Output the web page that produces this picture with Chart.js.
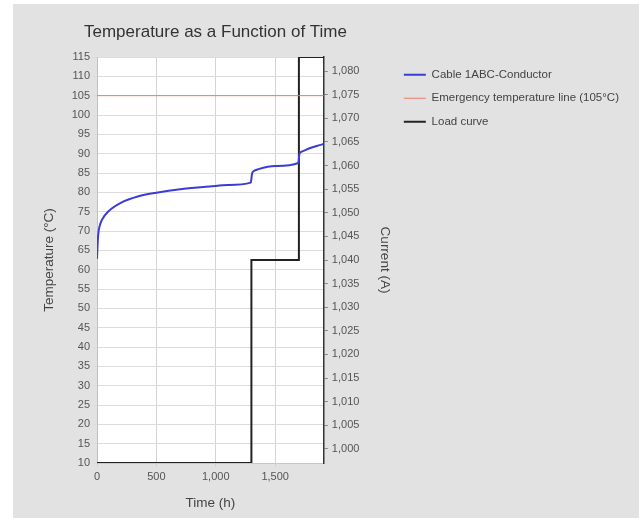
<!DOCTYPE html>
<html>
<head>
<meta charset="utf-8">
<script src="https://cdn.jsdelivr.net/npm/chart.js@4"></script>
<style>
  html, body { margin: 0; padding: 0; background: #fff; }
  #panel { position: absolute; left: 13px; top: 4px; width: 626px; height: 514px; background: #e2e2e2; }
  canvas { display: block; }
</style>
</head>
<body>
<div id="panel"><canvas id="chart" width="626" height="514"></canvas></div>
<script>
/* ── data ── */
const tempTime  = [0, 5, 10, 20, 40, 100, 200, 350, 500, 700, 950, 1100, 1295, 1300, 1305, 1320, 1360, 1500, 1695, 1700, 1705, 1730, 1790, 1850, 1910];
const tempValue = [62.8, 66.5, 69, 71, 72.8, 75.2, 77.3, 79, 79.9, 80.8, 81.5, 81.9, 82.5, 83.5, 84.8, 85.5, 86, 86.8, 87.6, 88.8, 90, 90.6, 91.4, 92, 92.5];

const emergencyTime  = [0, 1910];
const emergencyValue = [105, 105];

const loadTime    = [0, 1300, 1700, 1910];
const loadCurrent = [997, 1040, 1083, 1083];

const timeTicks = [0, 500, 1000, 1500];

const legendLabels = ['Cable 1ABC-Conductor', 'Emergency temperature line (105°C)', 'Load curve'];

const pts = (xs, ys) => xs.map((x, i) => ({ x, y: ys[i] }));

const FAMILY = 'Liberation Sans, Arial, sans-serif';
const TICK_FONT = { family: FAMILY, size: 11 };
const LEGEND_FONT = { family: FAMILY, size: 11.5 };
const AXIS_FONT = { family: FAMILY, size: 13.5, lineHeight: 1 };

/* ── white plot area + title ── */
const plotDecor = {
  id: 'plotDecor',
  beforeDraw(chart) {
    const { ctx, chartArea: a } = chart;
    ctx.save();
    ctx.fillStyle = '#ffffff';
    ctx.fillRect(a.left, a.top, a.right - a.left, a.bottom - a.top);
    ctx.restore();
  },
  afterDraw(chart) {
    const { ctx, chartArea: a } = chart;
    ctx.save();
    ctx.font = '17px ' + FAMILY;
    ctx.fillStyle = '#333';
    ctx.textAlign = 'left';
    ctx.textBaseline = 'middle';
    ctx.fillText('Temperature as a Function of Time', a.left - 13, 28);
    ctx.restore();
  }
};

new Chart(document.getElementById('chart'), {
  type: 'line',
  data: {
    datasets: [
      {
        label: legendLabels[0],
        data: pts(tempTime, tempValue),
        yAxisID: 'y',
        borderColor: '#3b3bd6',
        backgroundColor: '#3b3bd6',
        borderWidth: 2,
        pointRadius: 0,
        cubicInterpolationMode: 'monotone'
      },
      {
        label: legendLabels[1],
        data: pts(emergencyTime, emergencyValue),
        yAxisID: 'y',
        borderColor: '#ee7a66',
        backgroundColor: '#ee7a66',
        borderWidth: 1,
        pointRadius: 0
      },
      {
        label: legendLabels[2],
        data: pts(loadTime, loadCurrent),
        yAxisID: 'y1',
        borderColor: '#222',
        backgroundColor: '#222',
        borderWidth: 2,
        pointRadius: 0,
        stepped: true
      }
    ]
  },
  options: {
    responsive: false,
    animation: false,
    layout: { padding: { left: 30, right: 10, top: 53, bottom: 4 } },
    plugins: {
      title: { display: false },
      tooltip: { enabled: false },
      legend: {
        position: 'right',
        align: 'start',
        maxWidth: 260,
        labels: {
          usePointStyle: true,
          pointStyle: 'line',
          pointStyleWidth: 22,
          padding: 12,
          color: '#444',
          font: LEGEND_FONT
        }
      }
    },
    scales: {
      x: {
        type: 'linear',
        min: 0,
        max: 1910,
        afterFit: s => { s.height = 51; },
        afterBuildTicks: s => { s.ticks = timeTicks.map(v => ({ value: v })); },
        ticks: { color: '#555', font: TICK_FONT, padding: 3 },
        grid: { color: '#d4d4d4', tickLength: 4 },
        border: { color: '#c8c8c8' },
        title: { display: true, text: 'Time (h)', color: '#444', font: AXIS_FONT, padding: { top: 4, bottom: 4 } }
      },
      y: {
        position: 'left',
        min: 10,
        max: 115,
        afterFit: s => { s.width = 54; },
        ticks: { stepSize: 5, autoSkip: false, color: '#555', font: TICK_FONT, padding: 3 },
        grid: { color: '#dcdcdc', tickLength: 4 },
        border: { color: '#c0c0c0' },
        title: { display: true, text: 'Temperature (°C)', color: '#444', font: AXIS_FONT, padding: { top: 0, bottom: 4 } }
      },
      y1: {
        position: 'right',
        min: Math.min(...loadCurrent),
        max: Math.max(...loadCurrent),
        afterFit: s => { s.width = 68; },
        ticks: { stepSize: 5, includeBounds: false, autoSkip: false, color: '#555', font: TICK_FONT, padding: 4 },
        grid: { drawOnChartArea: false, tickLength: 4, color: '#888' },
        border: { color: '#333', width: 1.5 },
        title: { display: true, text: 'Current (A)', color: '#444', font: AXIS_FONT, padding: { top: 0, bottom: 0 } }
      }
    }
  },
  plugins: [plotDecor]
});
</script>
</body>
</html>
